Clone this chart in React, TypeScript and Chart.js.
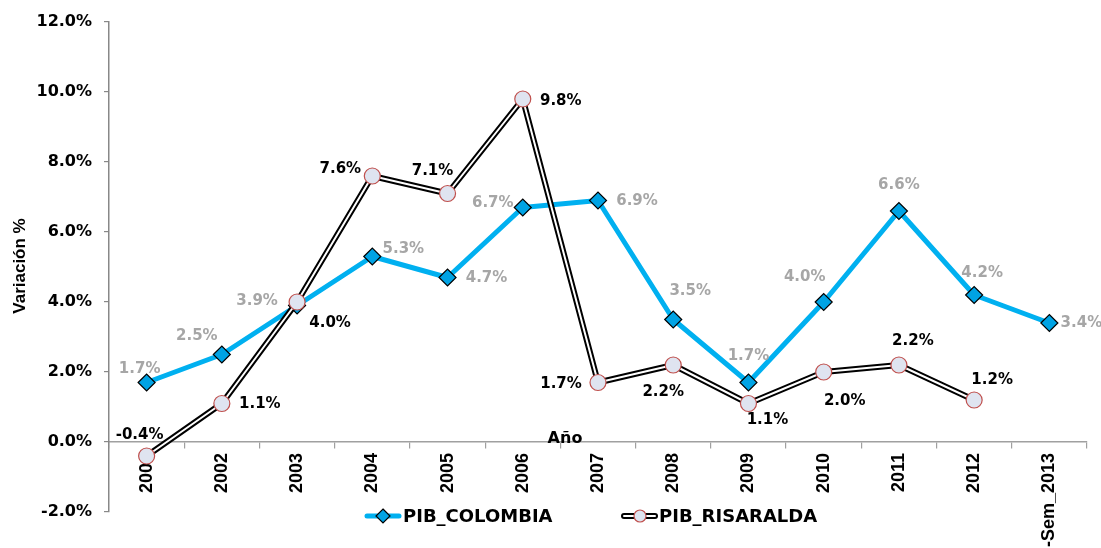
import React, { useEffect, useRef } from 'react';
import { Chart, registerables } from 'chart.js';

Chart.register(...registerables);

const categories = ['2001', '2002', '2003', '2004', '2005', '2006', '2007', '2008', '2009', '2010', '2011', '2012', 'I-Sem_2013'];
const pibColombia = [1.7, 2.5, 3.9, 5.3, 4.7, 6.7, 6.9, 3.5, 1.7, 4.0, 6.6, 4.2, 3.4];
const pibRisaralda: (number | null)[] = [-0.4, 1.1, 4.0, 7.6, 7.1, 9.8, 1.7, 2.2, 1.1, 2.0, 2.2, 1.2, null];
const yMin = -2;
const yMax = 12;
const yStep = 2;
const seriesNames = ['PIB_COLOMBIA', 'PIB_RISARALDA'];
const yTitle = 'Variación %';
const xTitle = 'Año';

// label placement offsets (dx, dy) relative to each point
const colombiaLabelOffsets = [[-7, -13], [-25, -18], [-40, -4], [31, -7], [39, 1], [-30, -4], [39, 1], [17, -28], [0, -26], [-19, -25], [0, -26], [8, -22], [32, 0]];
const risaraldaLabelOffsets = [[-7, -21], [38, 1], [33, 21], [-32, -7], [-15, -22], [38, 2], [-37, 2], [-10, 27], [19, 17], [21, 29], [14, -24], [18, -20], [0, 0]];

const BLUE = '#00b0f0';
const DIAMOND = '#00a3e4';
const CIRCLE_FILL = '#dfe4f0';
const CIRCLE_BORDER = '#c0504d';

const labelsPlugin = {
  id: 'valueLabels',
  afterDatasetsDraw(chart: any) {
    const ctx = chart.ctx;
    ctx.save();
    ctx.font = 'bold 15px "DejaVu Sans"';
    ctx.textAlign = 'center';
    ctx.textBaseline = 'middle';
    const draw = (dsIndex: number, values: (number | null)[], offsets: number[][], color: string) => {
      const meta = chart.getDatasetMeta(dsIndex);
      ctx.fillStyle = color;
      values.forEach((v, i) => {
        if (v === null || v === undefined) return;
        const el = meta.data[i];
        if (!el) return;
        const [dx, dy] = offsets[i];
        ctx.fillText(v.toFixed(1) + '%', el.x + dx, el.y + dy);
      });
    };
    draw(0, pibColombia, colombiaLabelOffsets, '#a6a6a6');
    draw(2, pibRisaralda, risaraldaLabelOffsets, '#000000');
    ctx.restore();
  },
  afterDraw(chart: any) {
    const ctx = chart.ctx;
    const yScale = chart.scales.y;
    ctx.save();
    // y title
    ctx.translate(20, 266);
    ctx.rotate(-Math.PI / 2);
    ctx.font = 'bold 17px "Liberation Sans"';
    ctx.fillStyle = '#000';
    ctx.textAlign = 'center';
    ctx.textBaseline = 'middle';
    ctx.fillText(yTitle, 0, 0);
    ctx.restore();

    // x title sitting on the zero line
    ctx.save();
    ctx.font = 'bold 16px "DejaVu Sans"';
    ctx.fillStyle = '#000';
    ctx.textAlign = 'center';
    ctx.textBaseline = 'alphabetic';
    ctx.fillText(xTitle, 565, yScale.getPixelForValue(0) + 1);
    ctx.restore();

    // legend
    ctx.save();
    const ly = 516;
    // Colombia
    ctx.lineCap = 'round';
    ctx.strokeStyle = BLUE;
    ctx.lineWidth = 5;
    ctx.beginPath();
    ctx.moveTo(367, ly);
    ctx.lineTo(399, ly);
    ctx.stroke();
    ctx.beginPath();
    ctx.moveTo(383, ly - 7);
    ctx.lineTo(390, ly);
    ctx.lineTo(383, ly + 7);
    ctx.lineTo(376, ly);
    ctx.closePath();
    ctx.fillStyle = DIAMOND;
    ctx.fill();
    ctx.lineWidth = 1.2;
    ctx.strokeStyle = '#000';
    ctx.stroke();
    ctx.font = 'bold 18px "DejaVu Sans"';
    ctx.fillStyle = '#000';
    ctx.textAlign = 'left';
    ctx.textBaseline = 'middle';
    ctx.fillText(seriesNames[0], 403, ly + 1);
    // Risaralda
    ctx.strokeStyle = '#000';
    ctx.lineWidth = 6;
    ctx.beginPath();
    ctx.moveTo(624, ly);
    ctx.lineTo(655, ly);
    ctx.stroke();
    ctx.strokeStyle = '#fff';
    ctx.lineWidth = 2;
    ctx.beginPath();
    ctx.moveTo(624, ly);
    ctx.lineTo(655, ly);
    ctx.stroke();
    ctx.beginPath();
    ctx.arc(640, ly, 6, 0, Math.PI * 2);
    ctx.fillStyle = CIRCLE_FILL;
    ctx.fill();
    ctx.lineWidth = 1.2;
    ctx.strokeStyle = CIRCLE_BORDER;
    ctx.stroke();
    ctx.fillStyle = '#000';
    ctx.fillText(seriesNames[1], 659, ly + 1);
    ctx.restore();
  },
};

export default function App() {
  const canvasRef = useRef<HTMLCanvasElement | null>(null);

  useEffect(() => {
    document.body.style.margin = '0';
    const canvas = canvasRef.current;
    if (!canvas) return;
    const chart = new Chart(canvas, {
      type: 'line',
      data: {
        labels: categories,
        datasets: [
          {
            label: seriesNames[0],
            data: pibColombia,
            borderColor: BLUE,
            borderWidth: 5,
            borderJoinStyle: 'round',
            pointStyle: 'rectRot',
            pointRadius: 8.5,
            pointBackgroundColor: DIAMOND,
            pointBorderColor: '#000',
            pointBorderWidth: 1.2,
            tension: 0,
            order: 3,
            clip: false,
          },
          {
            label: seriesNames[1] + '_outline',
            data: pibRisaralda,
            borderColor: '#000',
            borderWidth: 6,
            borderJoinStyle: 'round',
            pointRadius: 0,
            tension: 0,
            order: 2,
            clip: false,
          },
          {
            label: seriesNames[1],
            data: pibRisaralda,
            borderColor: '#ffffff',
            borderWidth: 2,
            borderJoinStyle: 'round',
            pointStyle: 'circle',
            pointRadius: 8,
            pointBackgroundColor: CIRCLE_FILL,
            pointBorderColor: CIRCLE_BORDER,
            pointBorderWidth: 1.2,
            tension: 0,
            order: 1,
            clip: false,
          },
        ],
      } as any,
      options: {
        responsive: false,
        animation: false,
        layout: { padding: { top: 22, right: 14, bottom: 36, left: 0 } },
        plugins: {
          legend: { display: false },
          tooltip: { enabled: false },
        },
        scales: {
          x: {
            type: 'category',
            position: { y: 0 } as any,
            offset: true,
            z: 1,
            grid: {
              offset: true,
              drawOnChartArea: false,
              drawTicks: true,
              tickLength: 6,
              color: '#a0a0a0',
              lineWidth: 1.2,
            },
            border: { color: '#a0a0a0', width: 1.5 },
            ticks: {
              autoSkip: false,
              minRotation: 90,
              maxRotation: 90,
              padding: 5,
              color: '#000',
              font: { family: 'Liberation Sans', weight: 'bold', size: 18 },
            },
          },
          y: {
            min: yMin,
            max: yMax,
            afterFit: (scale: any) => {
              scale.width = 109;
            },
            grid: {
              drawOnChartArea: false,
              drawTicks: true,
              tickLength: 5,
              color: '#888',
              lineWidth: 1.2,
            },
            border: { color: '#888', width: 1.5 },
            ticks: {
              stepSize: yStep,
              padding: 12,
              color: '#000',
              font: { family: 'DejaVu Sans', weight: 'bold', size: 16 },
              callback: (v: any) => Number(v).toFixed(1) + '%',
            },
          },
        },
      } as any,
      plugins: [labelsPlugin],
    });
    return () => chart.destroy();
  }, []);

  return (
    <div style={{ width: 1101, height: 548 }}>
      <canvas ref={canvasRef} width={1101} height={548} />
    </div>
  );
}
